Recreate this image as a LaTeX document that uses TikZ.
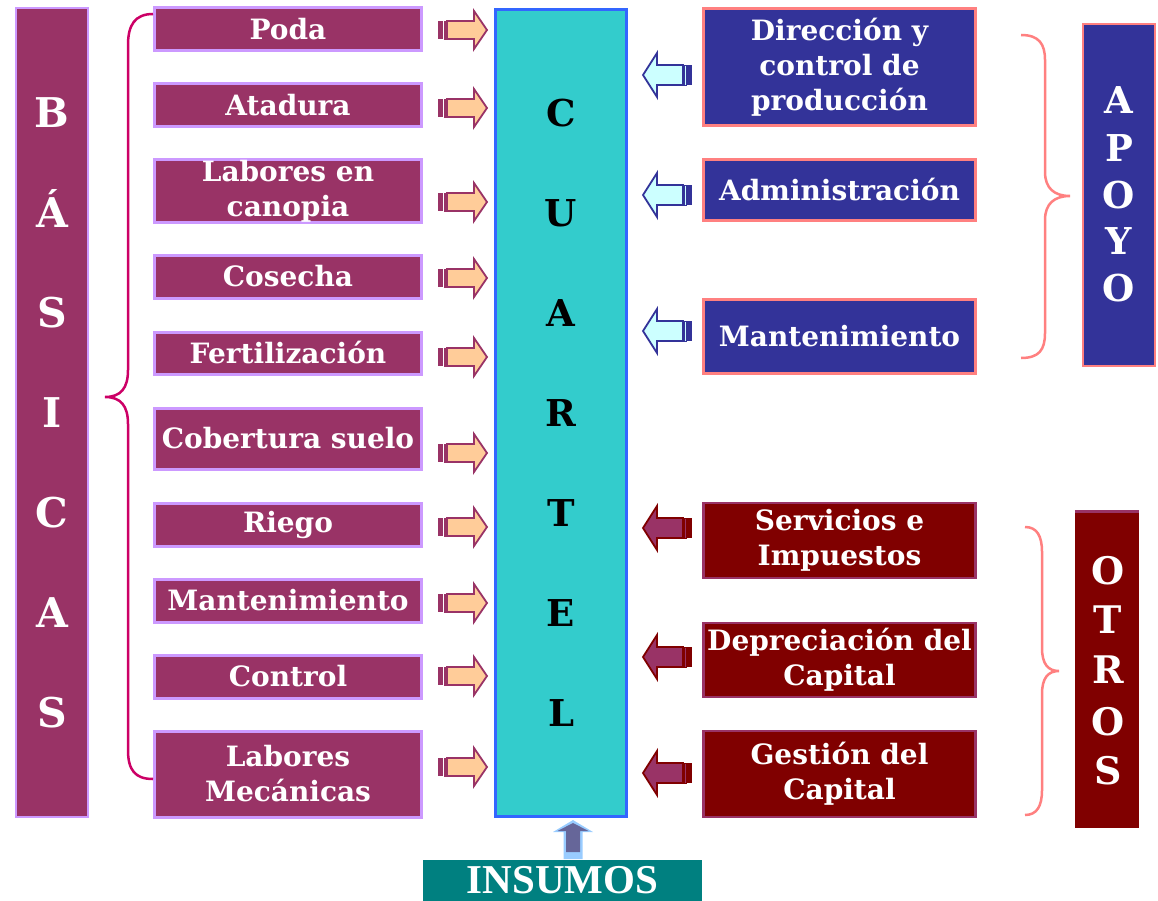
\documentclass[tikz,border=0pt]{standalone}
\usepackage{fontspec}
\setmainfont{DejaVu Serif}
\newfontfamily\insfont{Liberation Serif}
\definecolor{plum}{HTML}{993366}
\definecolor{lpur}{HTML}{CC99FF}
\definecolor{cyanf}{HTML}{33CCCC}
\definecolor{cblue}{HTML}{3366FF}
\definecolor{navy}{HTML}{333399}
\definecolor{pink}{HTML}{FF8080}
\definecolor{maroon}{HTML}{800000}
\definecolor{orangef}{HTML}{FFCC99}
\definecolor{bluef}{HTML}{CCFFFF}
\definecolor{teal}{HTML}{008080}
\definecolor{magbr}{HTML}{CC0066}
\definecolor{ltblue}{HTML}{99CCFF}
\definecolor{slate}{HTML}{666699}
\begin{document}
\begin{tikzpicture}[x=1pt,y=-1pt,
  every node/.style={inner sep=0pt},
  txt/.style={text=white, align=center, font=\bfseries\fontsize{28}{35}\selectfont,
    execute at begin node=\rule{0pt}{22pt},
    execute at end node=\rule[-1.6pt]{0pt}{1.6pt}},
  lbox/.style={txt, draw=lpur, fill=plum, line width=3pt, minimum width=267},
  abox/.style={txt, draw=pink, fill=navy, line width=3pt, minimum width=272},
  obox/.style={txt, draw=plum, fill=maroon, line width=2.5pt, minimum width=272},
  bigletter/.style={font=\bfseries\fontsize{#1}{#1}\selectfont, text height=0.729*#1, text depth=0pt},
  pics/rarr/.style={code={
    \fill[plum] (-49,-9) rectangle (-44,9);
    \draw[plum, fill=orangef, line width=0.8pt] (-43,-9) rectangle (-41.5,9);
    \draw[plum, fill=orangef, line width=1.8pt, line join=miter]
      (-40,-9) -- (-13,-9) -- (-13,-19) -- (0,0) -- (-13,19) -- (-13,9) -- (-40,9) -- cycle;
  }},
  pics/larr/.style 2 args={code={
    \fill[#2] (49,-10) rectangle (44,10);
    \draw[#2, fill=#1, line width=0.8pt] (43,-10) rectangle (41.5,10);
    \draw[#2, fill=#1, line width=1.8pt, line join=miter]
      (40,-10) -- (14,-10) -- (14,-22) -- (0,0) -- (14,22) -- (14,10) -- (40,10) -- cycle;
  }}
]
\useasboundingbox (0,0) rectangle (1158,901);

% BASICAS column
\node[draw=lpur, fill=plum, line width=2.5pt, minimum width=72, minimum height=809] (basicas) at (52,412.5) {};
\foreach \l/\yy [count=\i] in {B/113,Á/213,S/313,I/413,C/513,A/613,S/713}
  \node[bigletter=41, text=white] (bas\i) at (52,\yy) {\l};

% left boxes
\node[lbox, minimum height=43] (poda) at (288,29.5) {Poda};
\node[lbox, minimum height=43] (atadura) at (288,105.5) {Atadura};
\node[lbox, minimum height=62] (canopia) at (288,191) {Labores en\\canopia};
\node[lbox, minimum height=43] (cosecha) at (288,276.5) {Cosecha};
\node[lbox, minimum height=42] (fert) at (288,353) {Fertilización};
\node[lbox, minimum height=61] (cober) at (288,438.5) {Cobertura suelo};
\node[lbox, minimum height=43] (riego) at (288,524.5) {Riego};
\node[lbox, minimum height=43] (mantl) at (288,600.5) {Mantenimiento};
\node[lbox, minimum height=43] (control) at (288,676.5) {Control};
\node[lbox, minimum height=86] (mecan) at (288,774) {Labores\\Mecánicas};

% brace left
\draw[magbr, line width=2.5pt] (153,14) .. controls (135,14) and (128,25) .. (128,45)
  -- (128,370) .. controls (128,388) and (121,397) .. (105,397)
  .. controls (121,397) and (128,406) .. (128,424)
  -- (128,750) .. controls (128,770) and (135,779) .. (153,779);

% right arrows
\foreach \yy in {30,108,202,278,357,453,527,603,676,767}
  \pic at (487,\yy) {rarr};

% CUARTEL
\node[draw=cblue, fill=cyanf, line width=3.5pt, minimum width=131, minimum height=807] (cuartel) at (561,413) {};
\foreach \l/\yy [count=\i] in {C/113,U/213,A/313,R/413,T/513,E/613,L/713}
  \node[bigletter=37, text=black] (cu\i) at (561,\yy) {\l};

% APOYO boxes
\node[abox, minimum height=117] (direc) at (839.5,67.5) {Dirección y\\control de\\producción};
\node[abox, minimum height=61] (admin) at (839.5,190.5) {Administración};
\node[abox, minimum height=74] (mantr) at (839.5,336) {Mantenimiento};
\foreach \yy in {75,195,331}
  \pic at (643,\yy) {larr={bluef}{navy}};

% APOYO brace and column
\draw[pink, line width=2.5pt] (1021,35) .. controls (1039,35) and (1045,44) .. (1045,60)
  -- (1045,172) .. controls (1045,188) and (1054,196) .. (1070,196)
  .. controls (1054,196) and (1045,204) .. (1045,220)
  -- (1045,333) .. controls (1045,350) and (1039,358) .. (1021,358);
\node[draw=pink, fill=navy, line width=2.5pt, minimum width=72, minimum height=342] (apoyo) at (1119,195) {};
\foreach \l/\yy [count=\i] in {A/100,P/148,O/195,Y/241,O/288}
  \node[bigletter=37, text=white] (ap\i) at (1119,\yy) {\l};

% OTROS boxes
\node[obox, minimum height=75] (serv) at (839.5,540.5) {Servicios e\\Impuestos};
\node[obox, minimum height=74] (depr) at (839.5,660) {Depreciación del\\Capital};
\node[obox, minimum height=86] (gest) at (839.5,774) {Gestión del\\Capital};
\foreach \yy in {528,657,773}
  \pic at (643,\yy) {larr={plum}{maroon}};

% OTROS brace and column
\draw[pink, line width=2.5pt] (1025,527) .. controls (1037,527) and (1042,536) .. (1042,552)
  -- (1042,648) .. controls (1042,664) and (1048,671) .. (1059,671)
  .. controls (1048,671) and (1042,678) .. (1042,694)
  -- (1042,790) .. controls (1042,806) and (1037,815) .. (1025,815);
\node[fill=maroon, minimum width=64, minimum height=316] (otros) at (1107,670) {};
\draw[plum, line width=3pt] (otros.north west) -- (otros.north east);
\foreach \l/\yy [count=\i] in {O/571,T/620,R/670,O/722,S/771}
  \node[bigletter=38, text=white] (ot\i) at (1108,\yy) {\l};

% INSUMOS
\node[fill=teal, minimum width=279, minimum height=41] (insumos) at (562.5,880.5) {};
\node[text=white, font=\insfont\bfseries\fontsize{41}{41}\selectfont, text height=27pt, text depth=0pt] (instext) at (562.5,879.5) {INSUMOS};
\coordinate (upbase) at (573,859);
\fill[ltblue] (upbase) -- ++(-9.5,0) -- (563.5,832) -- (553,832) -- (573,820) -- (593,832) -- (582.5,832) -- (582.5,859) -- cycle;
\fill[slate] (566,852) -- (566,831) -- (557.5,831) -- (573,823) -- (588.5,831) -- (580,831) -- (580,852) -- cycle;
\end{tikzpicture}
\end{document}
